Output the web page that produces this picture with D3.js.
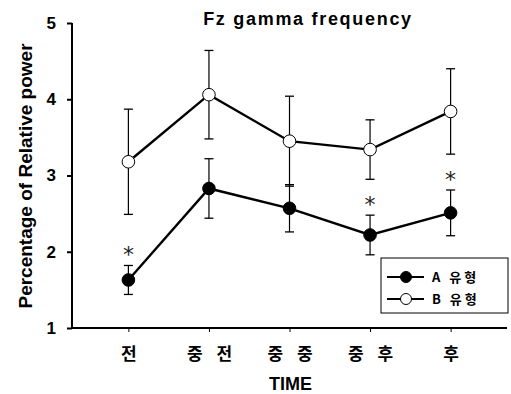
<!DOCTYPE html>
<html>
<head>
<meta charset="utf-8">
<script src="https://cdn.jsdelivr.net/npm/d3@7"></script>
<style>
  html, body { margin: 0; padding: 0; background: #fff; }
  svg { display: block; }
</style>
</head>
<body>
<svg id="chart" width="511" height="394"></svg>
<script>
// Time points and group means with standard error
const categories = ["전", "중 전", "중 중", "중 후", "후"];
const groupA = [1.63, 2.83, 2.57, 2.22, 2.51];
const groupAErr = [0.19, 0.39, 0.31, 0.26, 0.30];
const groupB = [3.18, 4.06, 3.45, 3.34, 3.84];
const groupBErr = [0.69, 0.58, 0.59, 0.39, 0.56];
const significant = [true, false, false, true, true];
const yTicks = [1, 2, 3, 4, 5];
const seriesNames = ["A 유형", "B 유형"];

const svg = d3.select("#chart");
const plotLeft = 72, plotRight = 507, plotTop = 23, plotBottom = 328;
const boldFont = "Arial, 'Liberation Sans', sans-serif";
const koFont = "'Noto Sans CJK KR', sans-serif";

const x = d3.scalePoint().domain(categories).range([plotLeft, plotRight]).padding(0.7);
const y = d3.scaleLinear().domain([1, 5]).range([plotBottom, plotTop]);

// Y axis
const yAxis = svg.append("g").attr("transform", `translate(${plotLeft},0)`)
  .call(d3.axisLeft(y).tickValues(yTicks).tickSize(5).tickPadding(11).tickFormat(d3.format("d")));
yAxis.select(".domain").attr("stroke", "#000").attr("stroke-width", 2)
  .attr("d", `M0,${plotTop}V${plotBottom}`);
yAxis.selectAll(".tick line").attr("stroke", "#000").attr("stroke-width", 2);
yAxis.selectAll(".tick text").attr("font-family", boldFont).attr("font-weight", "bold")
  .attr("font-size", 17).attr("fill", "#000");

// X axis
const xAxis = svg.append("g").attr("transform", `translate(0,${plotBottom})`)
  .call(d3.axisBottom(x).tickSize(4).tickPadding(14));
xAxis.select(".domain").attr("stroke", "#000").attr("stroke-width", 2)
  .attr("d", `M${plotLeft},0H${plotRight}`);
xAxis.selectAll(".tick line").attr("stroke", "#000").attr("stroke-width", 1);
xAxis.selectAll(".tick text").attr("font-family", koFont).attr("font-weight", "bold")
  .attr("font-size", 17).attr("fill", "#000").attr("dy", "0.8em")
  .style("word-spacing", "10px");

// Titles
svg.append("text").attr("x", 308).attr("y", 25).attr("text-anchor", "middle")
  .attr("font-family", boldFont).attr("font-weight", "bold").attr("font-size", 18)
  .style("letter-spacing", "1.7px")
  .text("Fz gamma frequency");
svg.append("text").attr("transform", "translate(32,176) rotate(-90)")
  .attr("text-anchor", "middle").attr("font-family", boldFont).attr("font-weight", "bold")
  .attr("font-size", 19).text("Percentage of Relative power");
svg.append("text").attr("x", x(categories[2]) + 1).attr("y", 390).attr("text-anchor", "middle")
  .attr("font-family", boldFont).attr("font-weight", "bold").attr("font-size", 18)
  .text("TIME");

const series = [
  { name: seriesNames[0], values: groupA, err: groupAErr, fill: "#000" },
  { name: seriesNames[1], values: groupB, err: groupBErr, fill: "#fff" }
];

const line = d3.line().x((d, i) => x(categories[i])).y(d => y(d));

series.forEach(s => {
  const g = svg.append("g");
  // error bars
  s.values.forEach((v, i) => {
    const cx = x(categories[i]);
    const y1 = y(v + s.err[i]), y0 = y(v - s.err[i]);
    g.append("line").attr("x1", cx).attr("x2", cx).attr("y1", y1).attr("y2", y0)
      .attr("stroke", "#000").attr("stroke-width", 1.2);
    [y1, y0].forEach(yy => g.append("line").attr("x1", cx - 4.5).attr("x2", cx + 4.5)
      .attr("y1", yy).attr("y2", yy).attr("stroke", "#000").attr("stroke-width", 1.3));
  });
  g.append("path").attr("d", line(s.values)).attr("fill", "none")
    .attr("stroke", "#000").attr("stroke-width", 2.4);
  g.selectAll("circle").data(s.values).join("circle")
    .attr("cx", (d, i) => x(categories[i])).attr("cy", d => y(d)).attr("r", 6.3)
    .attr("fill", s.fill).attr("stroke", "#000").attr("stroke-width", 1);
});

// significance markers above group A error bars
groupA.forEach((v, i) => {
  if (!significant[i]) return;
  svg.append("text").attr("x", x(categories[i])).attr("y", y(v + groupAErr[i]) - 3)
    .attr("text-anchor", "middle").attr("font-family", "'DejaVu Sans', sans-serif")
    .attr("font-size", 22).attr("fill", "#222").text("*");
});

// Legend
const lg = svg.append("g");
lg.append("rect").attr("x", 381).attr("y", 258).attr("width", 127).attr("height", 55)
  .attr("fill", "#fff").attr("stroke", "#000").attr("stroke-width", 1);
series.forEach((s, i) => {
  const ly = 277 + i * 22;
  lg.append("line").attr("x1", 387).attr("x2", 424).attr("y1", ly).attr("y2", ly)
    .attr("stroke", "#000").attr("stroke-width", 2);
  lg.append("circle").attr("cx", 406).attr("cy", ly).attr("r", 5.5)
    .attr("fill", s.fill).attr("stroke", "#000").attr("stroke-width", 1);
  lg.append("text").attr("x", 432).attr("y", ly).attr("dy", "0.38em")
    .attr("font-family", koFont).attr("font-weight", "bold").attr("font-size", 13)
    .style("letter-spacing", "3px").text(s.name);
});
</script>
</body>
</html>
